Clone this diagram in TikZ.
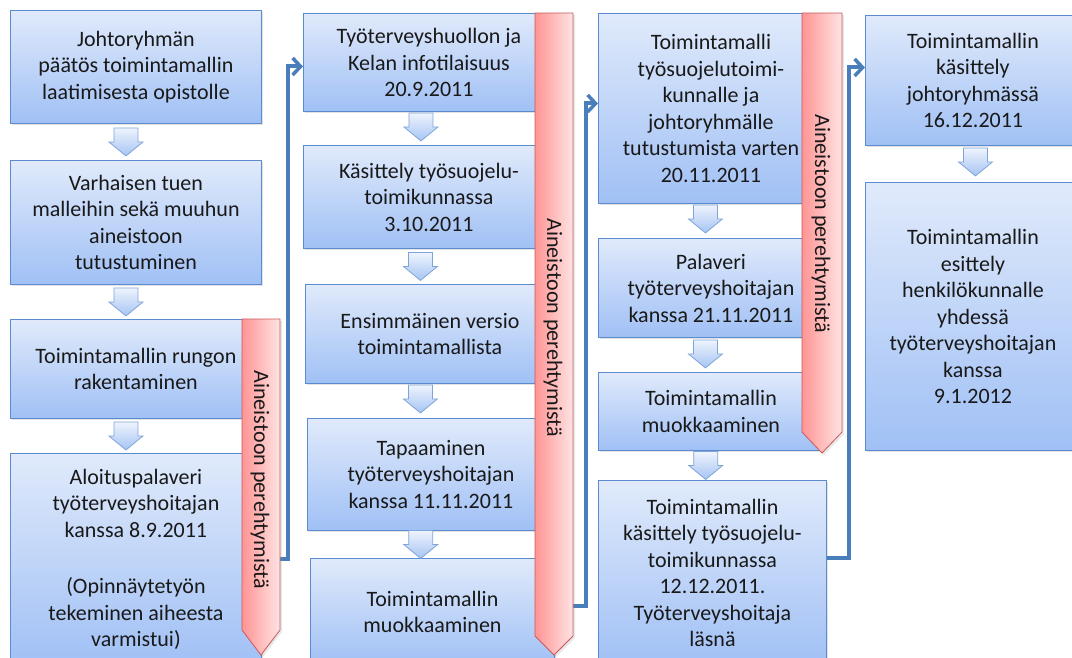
\documentclass[tikz,border=0pt]{standalone}
\usepackage{fontspec}
\setmainfont{Carlito}
\usetikzlibrary{arrows.meta,shadows,calc}
\definecolor{boxtop}{HTML}{E0EAFB}
\definecolor{boxbot}{HTML}{A0C0F5}
\definecolor{boxline}{HTML}{5B8CD0}
\definecolor{banleft}{HTML}{FF9494}
\definecolor{banright}{HTML}{FFE4E4}
\definecolor{banline}{HTML}{C9585A}
\definecolor{connc}{HTML}{4A7EBB}
\definecolor{arrline}{HTML}{7EA4DA}
\definecolor{arrtop}{HTML}{EEF4FD}
\definecolor{arrbot}{HTML}{A6C4F3}
\begin{document}
\begin{tikzpicture}[x=1pt,y=-1pt,
  box/.style={draw=boxline, line width=0.9pt, top color=boxtop, bottom color=boxbot,
    anchor=north west, align=center, inner sep=2pt, text=black!90,
    font=\fontsize{22}{26.5}\selectfont,
    drop shadow={opacity=0.22, shadow xshift=2pt, shadow yshift=-2pt}},
  banner/.style={draw=banline, line width=0.8pt, left color=banleft, right color=banright,
    drop shadow={opacity=0.18, shadow xshift=2pt, shadow yshift=-2pt}},
  bantext/.style={rotate=-90, text=black!90, font=\fontsize{22}{26.5}\selectfont, inner sep=0pt},
  arrsty/.style={draw=arrline, line width=0.8pt, top color=arrtop, bottom color=arrbot},
  conn/.style={draw=connc, line width=4pt, -{Straight Barb[length=8pt,width=17pt,line width=3.5pt]}},
  downarr/.pic={\path[arrsty] (-12,-14) -- (12,-14) -- (12,0) -- (17,0) -- (0,14) -- (-17,0) -- (-12,0) -- cycle;}
]
\useasboundingbox (0,0) rectangle (1072,657);

% column 1
\node[box, minimum width=251pt, minimum height=113pt] (b1) at (10,10)
  {Johtoryhmän\\päätös toimintamallin\\laatimisesta opistolle};
\node[box, minimum width=251pt, minimum height=124pt] (b2) at (10,160)
  {Varhaisen tuen\\malleihin sekä muuhun\\aineistoon\\tutustuminen};
\node[box, minimum width=251pt, minimum height=99pt] (b3) at (10,319)
  {Toimintamallin rungon\\rakentaminen};
\node[box, minimum width=251pt, minimum height=212pt] (b4) at (10,453)
  {Aloituspalaveri\\työterveyshoitajan\\kanssa 8.9.2011\\[30pt](Opinnäytetyön\\tekeminen aiheesta\\varmistui)};

% column 2
\node[box, minimum width=251pt, minimum height=98pt] (b5) at (303,13)
  {Työterveyshuollon ja\\Kelan infotilaisuus\\20.9.2011};
\node[box, minimum width=251pt, minimum height=103pt] (b6) at (303,145)
  {Käsittely työsuojelu-\\toimikunnassa\\3.10.2011};
\node[box, minimum width=249pt, minimum height=99pt] (b7) at (305,284)
  {Ensimmäinen versio\\toimintamallista};
\node[box, minimum width=247pt, minimum height=112pt] (b8) at (307,418)
  {Tapaaminen\\työterveyshoitajan\\kanssa 11.11.2011};
\node[box, minimum width=244pt, minimum height=107pt] (b9) at (310,558)
  {Toimintamallin\\muokkaaminen};

% column 3
\node[box, minimum width=225pt, minimum height=190pt] (b10) at (598,13)
  {Toimintamalli\\työsuojelutoimi-\\kunnalle ja\\johtoryhmälle\\tutustumista varten\\20.11.2011};
\node[box, minimum width=225pt, minimum height=99pt] (b11) at (598,238)
  {Palaveri\\työterveyshoitajan\\kanssa 21.11.2011};
\node[box, minimum width=225pt, minimum height=78pt] (b12) at (598,372)
  {Toimintamallin\\muokkaaminen};
\node[box, minimum width=228pt, minimum height=185pt] (b13) at (598,480)
  {Toimintamallin\\käsittely työsuojelu-\\toimikunnassa\\12.12.2011.\\Työterveyshoitaja\\läsnä};

% column 4
\node[box, minimum width=215pt, minimum height=130pt] (b14) at (865,15)
  {Toimintamallin\\käsittely\\johtoryhmässä\\16.12.2011};
\node[box, minimum width=215pt, minimum height=268pt] (b15) at (865,182)
  {Toimintamallin\\esittely\\henkilökunnalle\\yhdessä\\työterveyshoitajan\\kanssa\\9.1.2012};

% connectors between columns
\draw[conn] (b4.east) -- ++(26,0) |- ([yshift=-4pt]b5.west);
\draw[conn] ([yshift=6pt]b9.east) -- ++(31,0) |- ([yshift=5pt]b10.west);
\draw[conn] ([yshift=15pt]b13.east) -- ++(22,0) |- ([yshift=13pt]b14.west);

% block arrows
\pic at ($(b1.south)!.5!(b2.north)+(-10,0)$) {downarr};
\pic at ($(b2.south)!.5!(b3.north)+(-10,0)$) {downarr};
\pic at ($(b3.south)!.5!(b4.north)+(-10,0)$) {downarr};
\pic at ($(b5.south)!.5!(b6.north)+(-8,-1.5)$) {downarr};
\pic at ($(b6.south)!.5!(b7.north)+(-9,0)$) {downarr};
\pic at ($(b7.south)!.5!(b8.north)+(-10,-2)$) {downarr};
\pic at ($(b8.south)!.5!(b9.north)+(-11,0)$) {downarr};
\pic at ($(b10.south)!.5!(b11.north)+(-5.5,-2)$) {downarr};
\pic at ($(b11.south)!.5!(b12.north)+(-5.5,-1)$) {downarr};
\pic at ($(b12.south)!.5!(b13.north)+(-6,0)$) {downarr};
\pic at ($(b14.south)!.5!(b15.north)+(2.5,-2)$) {downarr};

% banners
\path[banner] (242,319) -- (280,319) -- (280,630) -- (261,655) -- (242,630) -- cycle;
\path[banner] (535,13) -- (573,13) -- (573,636) -- (554,655) -- (535,636) -- cycle;
\path[banner] (802,13) -- (842,13) -- (842,432) -- (822,453) -- (802,432) -- cycle;
\node[bantext] (t1) at (260,480) {Aineistoon perehtymistä};
\node[bantext] (t2) at (553,328) {Aineistoon perehtymistä};
\node[bantext] (t3) at (821,224) {Aineistoon perehtymistä};
\end{tikzpicture}
\end{document}
